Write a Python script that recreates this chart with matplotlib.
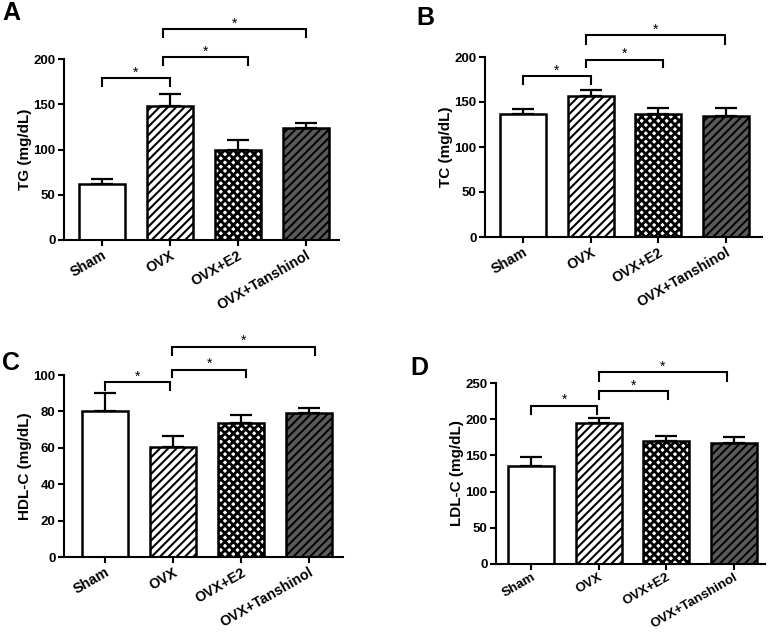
import matplotlib
matplotlib.use("Agg")
import matplotlib.pyplot as plt
import numpy as np

plt.rcParams['font.family'] = ['Liberation Sans', 'DejaVu Sans']
plt.rcParams['font.weight'] = 'bold'
plt.rcParams['hatch.linewidth'] = 1.5

groups = ["Sham", "OVX", "OVX+E2", "OVX+Tanshinol"]

tg_mean = [62, 148, 99, 124]
tg_err = [5.5, 13, 11.5, 5]
tc_mean = [137, 157, 137, 134]
tc_err = [5, 6.5, 6.5, 9.5]
hdl_mean = [80.4, 60.2, 73.8, 79.3]
hdl_err = [9.6, 6.2, 4.4, 2.4]
ldl_mean = [135.5, 194.8, 169.4, 167]
ldl_err = [12, 7, 7.5, 8]

ylabels = ["TG (mg/dL)", "TC (mg/dL)", "HDL-C (mg/dL)", "LDL-C (mg/dL)"]
letters = ["A", "B", "C", "D"]
yticks_list = [[0, 50, 100, 150, 200], [0, 50, 100, 150, 200],
               [0, 20, 40, 60, 80, 100], [0, 50, 100, 150, 200, 250]]

# brackets: (x_left, x_right, y_top, y_leg)
brackets_A = [(0, 1, 179, 170.5), (0.9, 2.15, 202, 193), (0.9, 3.0, 233, 224)]
brackets_B = [(0, 1, 179, 170.5), (0.93, 2.07, 197, 189), (0.93, 2.98, 224, 215)]
brackets_C = [(0, 0.96, 96, 92), (0.99, 2.08, 103, 98.7), (0.99, 3.09, 115.6, 111)]
brackets_D = [(0, 0.98, 218.7, 207), (1.0, 2.03, 239, 228), (1.0, 2.9, 265, 253)]

means = [tg_mean, tc_mean, hdl_mean, ldl_mean]
errs = [tg_err, tc_err, hdl_err, ldl_err]
brackets = [brackets_A, brackets_B, brackets_C, brackets_D]

# layout in pixels (left, top, right, bottom)
boxes = [(64, 59, 339, 240), (485, 57, 762, 237), (64, 375, 343, 557), (496, 383, 765, 564)]
xlims = [(-0.56, 3.49), (-0.56, 3.53), (-0.6, 3.5), (-0.52, 3.46)]
letter_pos = [(2, 20), (416, 25), (2, 370), (410, 375)]
xlab_size = [10.3, 10.3, 10.3, 9.6]

W, H = 770, 632
fig = plt.figure(figsize=(W / 100, H / 100), dpi=100)

faces = ["white", "white", "white", "#5a5a5a"]
hatches = [None, "////", "xxxx", "////"]
hatch_lw = [1.5, 1.5, 2.0, 1.4]

for i in range(4):
    l, t, r, b = boxes[i]
    ax = fig.add_axes([l / W, 1 - b / H, (r - l) / W, (b - t) / H])
    x = np.arange(len(groups))
    yt = yticks_list[i]
    m = means[i]
    e = errs[i]
    ax.errorbar(x, m, yerr=[np.zeros(4), e], fmt='none', ecolor='black',
                elinewidth=1.6, capsize=8, capthick=1.6, zorder=1)
    bars = ax.bar(x, m, width=0.68, color=faces, edgecolor='black',
                  linewidth=1.8, zorder=2)
    for j, p in enumerate(bars):
        if hatches[j]:
            p.set_hatch(hatches[j])
            if hasattr(p, "set_hatch_linewidth"):
                p.set_hatch_linewidth(hatch_lw[j])
    ax.set_xlim(*xlims[i])
    ax.set_ylim(yt[0], yt[-1])
    ax.set_yticks(yt)
    ax.set_xticks(x)
    ax.set_xticklabels(groups, rotation=30, ha='right', rotation_mode='anchor',
                       fontsize=xlab_size[i], fontweight='bold')
    for lab in ax.get_yticklabels():
        lab.set_fontsize(9.5)
        lab.set_fontweight('bold')
    ax.spines['top'].set_visible(False)
    ax.spines['right'].set_visible(False)
    ax.spines['left'].set_linewidth(1.5)
    ax.spines['bottom'].set_linewidth(1.5)
    ax.tick_params(axis='both', direction='out', width=1.5, length=4, pad=2)
    if i == 3:
        ax.tick_params(axis='x', pad=1)
    ax.set_ylabel(ylabels[i], fontsize=11, fontweight='bold', labelpad=1)
    for (x1, x2, yt_, yl) in brackets[i]:
        ax.plot([x1, x1, x2, x2], [yl, yt_, yt_, yl], color='black', lw=1.5,
                clip_on=False, solid_joinstyle='miter')
        ax.annotate('*', xy=((x1 + x2) / 2, yt_), xytext=(0, -1),
                    textcoords='offset points', ha='center', va='bottom',
                    fontsize=10, fontweight='normal', annotation_clip=False)
    lx, ly = letter_pos[i]
    fig.text(lx / W, 1 - ly / H, letters[i], fontsize=18, fontweight='bold',
             ha='left', va='baseline')

fig.savefig("out.png", dpi=100)
